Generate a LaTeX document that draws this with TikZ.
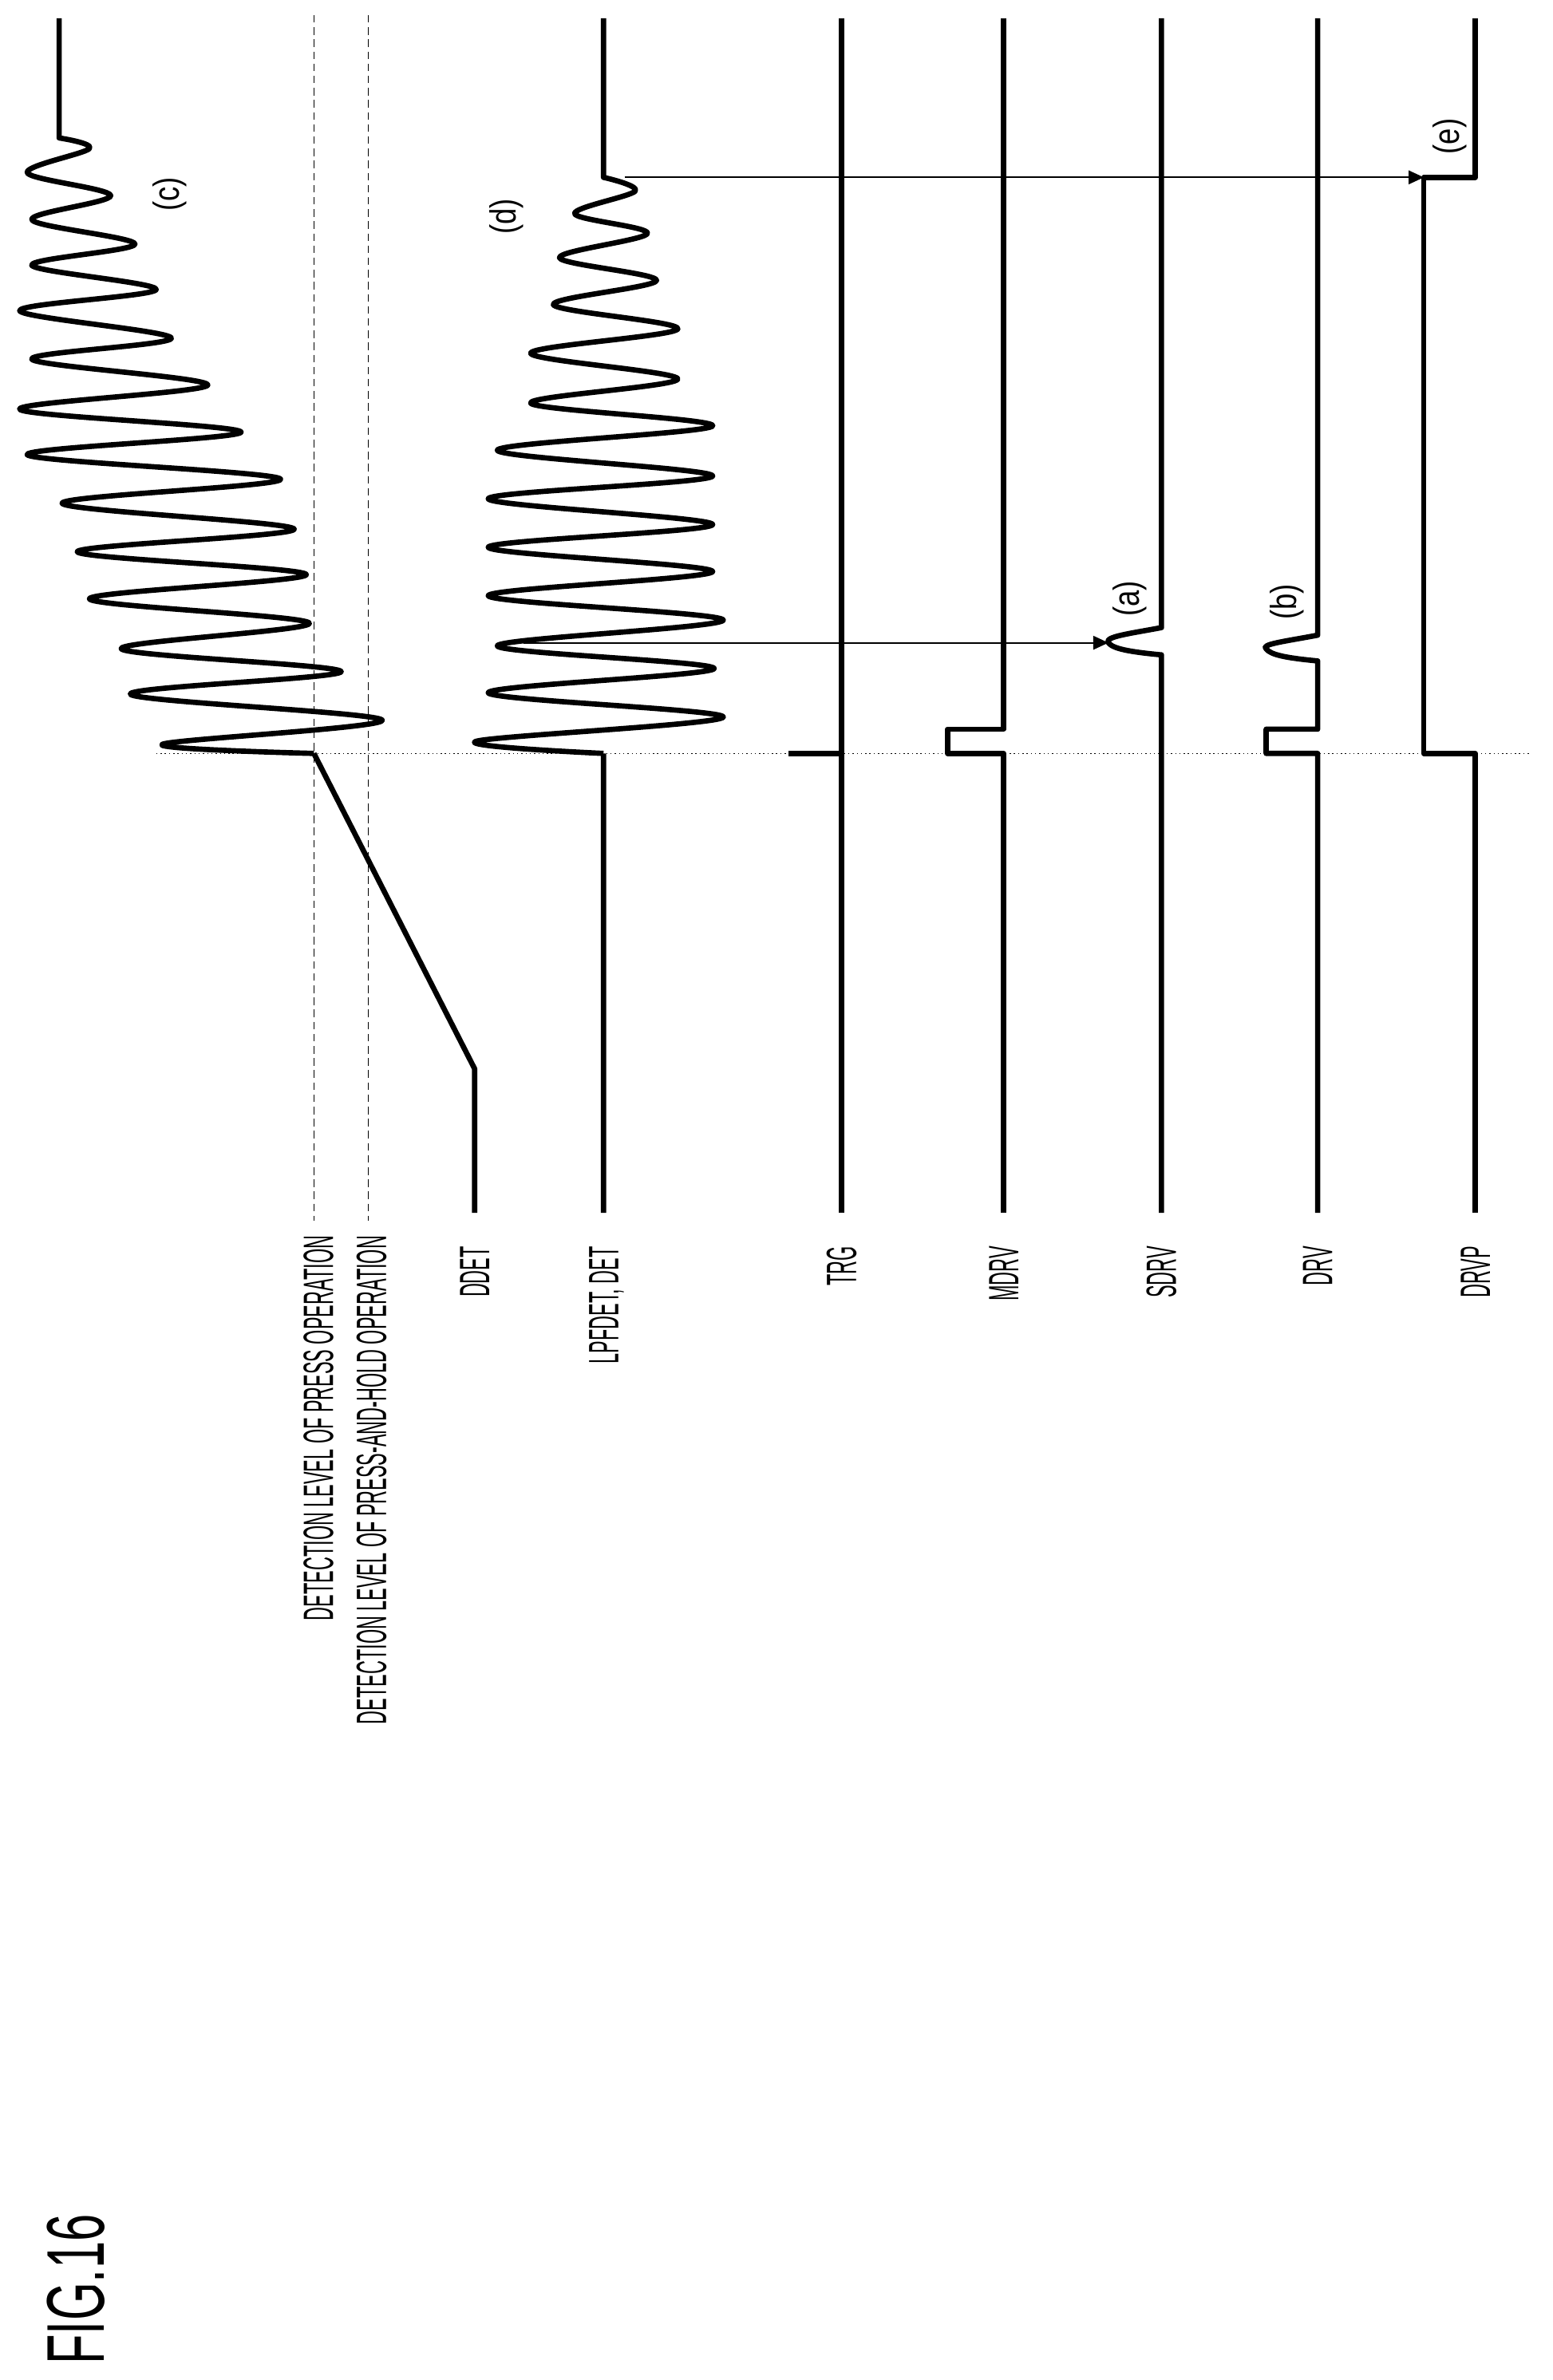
\documentclass[tikz,border=0pt]{standalone}
\usepackage{fontspec}
\setmainfont{Liberation Sans}
\newfontfamily\lab[FakeStretch=0.44]{Liberation Sans}
\newfontfamily\figf[FakeStretch=0.6]{Liberation Sans}
\newfontfamily\tagf[FakeStretch=0.8]{Liberation Sans}
\usetikzlibrary{arrows.meta}
\begin{document}
\begin{tikzpicture}[x=1pt,y=-1pt,
  sig/.style={line width=3.5pt,line join=round},
  lbl/.style={rotate=90,anchor=east,inner sep=0pt,font=\lab\fontsize{28}{28}\selectfont},
  tag/.style={rotate=90,inner sep=0pt,font=\tagf\fontsize{24}{24}\selectfont},
  lvl/.style={line width=0.8pt,dashed,dash pattern=on 5pt off 3pt},
  arr/.style={line width=1.1pt,-{Triangle[length=10pt,width=9pt]}}]
\useasboundingbox (0,0) rectangle (1024,1570);
% level lines
\draw[lvl] (207,10) -- (207,805);
\draw[lvl] (243,10) -- (243,805);
\draw[line width=0.8pt,dotted] (103,497) -- (1010,497);
% labels
\node[lbl] (l1) at (210,815) {DETECTION LEVEL OF PRESS OPERATION};
\node[lbl] (l2) at (245,815) {DETECTION LEVEL OF PRESS-AND-HOLD OPERATION};
\node[lbl] (l3) at (313,822) {DDET};
\node[lbl] (l4) at (400,822) {LPFDET, DET};
\node[lbl] (l5) at (555,822) {TRG};
\node[lbl] (l6) at (662,822) {MDRV};
\node[lbl] (l7) at (766,822) {SDRV};
\node[lbl] (l8) at (869,822) {DRV};
\node[lbl] (l9) at (973,822) {DRVP};
\node[rotate=90,anchor=west,inner sep=0pt,font=\figf\fontsize{54}{54}\selectfont] (fig) at (50,1560) {FIG.16};
% DDET
\draw[sig] (313,800) -- (313,705) -- (207,497)
 plot[smooth,tension=0.55] coordinates {(207,497)(107,491)(252,475)(86,458)(225,443)(80,428)(204,411)(59,395)(202,379)(51,364)(194,349)(41,332)(185,316)(18,300)(159,285)(13,270)(137,254)(21,237)(113,223)(13,205)(103,191)(21,175)(89,161)(21,145)(73,129)(18,114)(59,98)(39,91)}
 -- (39,12);
% LPFDET
\draw[sig] (398,800) -- (398,497)
 plot[smooth,tension=0.55] coordinates {(398,497)(314,489)(477,473)(322,457)(471,441)(328,426)(477,409)(322,393)(470,377)(322,361)(470,346)(322,329)(470,314)(328,297)(470,281)(350,266)(447,250)(350,233)(447,217)(365,201)(433,185)(369,170)(427,154)(379,141)(419,126)(398,117)}
 -- (398,12);
\coordinate (dsrc) at (412,117);
\coordinate (asrc) at (345,424);
% TRG
\draw[sig] (555,12) -- (555,800);
\draw[sig] (520,497) -- (555,497);
% MDRV
\draw[sig] (662,12) -- (662,481) -- (625,481) -- (625,497) -- (662,497) -- (662,800);
% SDRV
\draw[sig] (766,12) -- (766,414) .. controls (745,418) and (728,420) .. (731,424) coordinate (abump) .. controls (734,428) and (745,430) .. (766,432) -- (766,800);
% DRV
\draw[sig] (869,12) -- (869,419) .. controls (848,423) and (831,425) .. (835,428) .. controls (838,432) and (848,434) .. (869,436) -- (869,481) -- (835,481) -- (835,497) -- (869,497) -- (869,800);
% DRVP
\draw[sig] (973,12) -- (973,117) -- (939,117) coordinate (ebump) -- (939,497) -- (973,497) -- (973,800);
% arrows
\draw[arr] (asrc) -- (abump);
\draw[arr] (dsrc) -- (ebump);
% tags
\node[tag] (tc) at (112,128) {(c)};
\node[tag] (td) at (334,143) {(d)};
\node[tag] (ta) at (745,395) {(a)};
\node[tag] (tb) at (849,397) {(b)};
\node[tag] (te) at (956,90) {(e)};
\end{tikzpicture}
\end{document}
